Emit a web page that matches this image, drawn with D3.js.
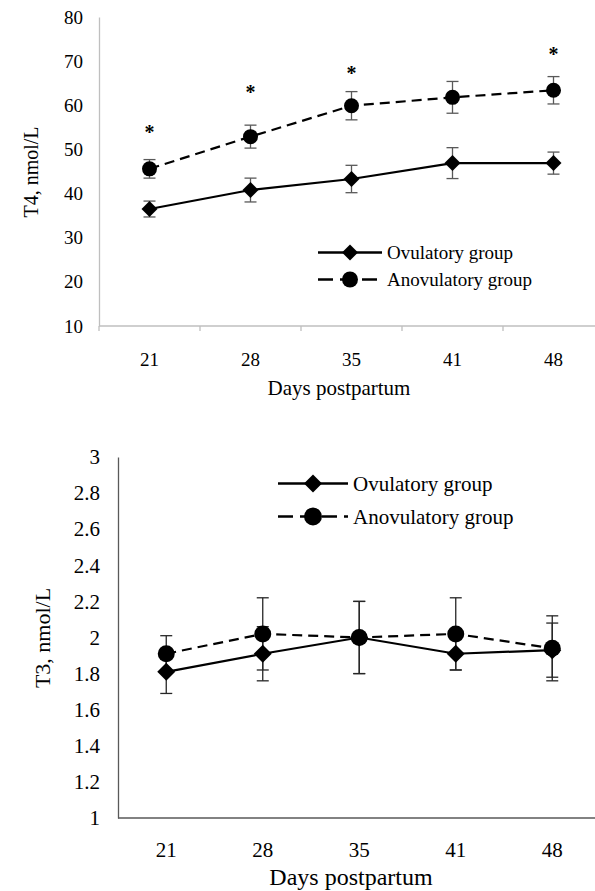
<!DOCTYPE html>
<html><head><meta charset="utf-8">
<script src="https://cdn.jsdelivr.net/npm/d3@7"></script>
<style>body{margin:0;background:#fff}svg{display:block}</style>
</head><body>
<svg id="c" width="595" height="891"></svg>
<script>
const days = ["21","28","35","41","48"];
const seriesNames = ["Ovulatory group","Anovulatory group"];
// T4 (nmol/L)
const t4Ovul = [36.5, 40.8, 43.3, 46.9, 46.9];
const t4OvulErr = [1.8, 2.7, 3.1, 3.5, 2.5];
const t4Anov = [45.6, 52.9, 59.9, 61.8, 63.4];
const t4AnovErr = [2.1, 2.6, 3.2, 3.6, 3.1];
const t4Stars = [54.4, 63.5, 67.8, null, 72.1];
const t4Ticks = [10,20,30,40,50,60,70,80];
// T3 (nmol/L)
const t3Ovul = [1.81, 1.91, 2.00, 1.91, 1.93];
const t3OvulErr = [0.12, 0.15, 0.2, 0.09, 0.15];
const t3Anov = [1.91, 2.02, 2.00, 2.02, 1.94];
const t3AnovErr = [0.1, 0.2, 0.2, 0.2, 0.18];
const t3Ticks = [1,1.2,1.4,1.6,1.8,2,2.2,2.4,2.6,2.8,3];

const FF = "'Liberation Serif','Times New Roman','DejaVu Serif',serif";
const svg = d3.select("#c");

function chart(o){
  const g = svg.append("g");
  const x = d3.scaleBand().domain(days).range([o.x0, o.x1]);
  const y = d3.scaleLinear().domain(o.domain).range([o.y1, o.y0]);
  const ya = d3.axisLeft(y).tickValues(o.ticks).tickSize(0).tickPadding(o.yPad).tickFormat(d=>String(d));
  const yg = g.append("g").attr("transform",`translate(${o.x0},0)`).call(ya);
  yg.attr("font-family",null);
  yg.select(".domain").attr("stroke",o.axisColor).attr("stroke-width",1.3);
  yg.selectAll("text").style("font-size",o.tickFont+"px").style("font-family",FF).attr("fill","#000");
  const xa = d3.axisBottom(x).tickSize(0).tickPadding(o.xPad);
  const xg = g.append("g").attr("transform",`translate(0,${o.y1})`).call(xa);
  xg.attr("font-family",null);
  xg.select(".domain").attr("stroke",o.axisColor).attr("stroke-width",1.3).attr("d",`M${o.x0},0H${o.x1}`);
  xg.selectAll("text").style("font-size",o.tickFont+"px").style("font-family",FF).attr("fill","#000");
  if(o.xTicks){
    const bounds = days.map(d=>x(d)).concat([x(days[4])+x.bandwidth()]);
    g.selectAll(".xt").data(bounds).enter().append("line")
      .attr("x1",d=>d).attr("x2",d=>d).attr("y1",o.y1).attr("y2",o.y1+5)
      .attr("stroke",o.axisColor).attr("stroke-width",1.3);
  }
  g.append("text").attr("x",o.xTitleX).attr("y",o.xTitleY).attr("text-anchor","middle")
    .style("font-size",o.titleFont+"px").style("font-family",FF).text("Days postpartum");
  g.append("text").attr("transform",`translate(${o.yTitleX},${o.yTitleY}) rotate(-90)`)
    .attr("text-anchor","middle").style("font-size",o.yTitleFont+"px").style("font-family",FF).text(o.yTitle);
  const cx = d=>x(d)+x.bandwidth()/2;
  const series = [
    {v:o.ovul,e:o.ovulErr,dash:null,shape:"diamond"},
    {v:o.anov,e:o.anovErr,dash:"10,6",shape:"circle"}
  ];
  series.forEach(s=>{
    days.forEach((d,i)=>{
      const xc=cx(d), t=y(s.v[i]+s.e[i]), b=y(s.v[i]-s.e[i]);
      g.append("line").attr("x1",xc).attr("x2",xc).attr("y1",t).attr("y2",b).attr("stroke",o.errColor).attr("stroke-width",1.3);
      [t,b].forEach(yy=>g.append("line").attr("x1",xc-6).attr("x2",xc+6).attr("y1",yy).attr("y2",yy).attr("stroke",o.errColor).attr("stroke-width",1.3));
    });
  });
  const line = d3.line().x((v,i)=>cx(days[i])).y(v=>y(v));
  series.forEach(s=>{
    g.append("path").attr("d",line(s.v)).attr("fill","none").attr("stroke","#000").attr("stroke-width",2.2)
      .attr("stroke-dasharray",s.dash);
  });
  const diamond = (xc,yc,r)=>`M${xc},${yc-r}L${xc+r},${yc}L${xc},${yc+r}L${xc-r},${yc}Z`;
  series.forEach(s=>{
    days.forEach((d,i)=>{
      if(s.shape==="circle") g.append("circle").attr("cx",cx(d)).attr("cy",y(s.v[i])).attr("r",o.circR).attr("fill","#000");
      else g.append("path").attr("d",diamond(cx(d),y(s.v[i]),o.diaR)).attr("fill","#000");
    });
  });
  if(o.stars){
    days.forEach((d,i)=>{
      if(o.stars[i]==null) return;
      g.append("text").attr("x",cx(d)).attr("y",y(o.stars[i])+9).attr("text-anchor","middle")
        .style("font-size","20px").style("font-family",FF).attr("font-weight","bold").text("*");
    });
  }
  const L=o.legend;
  [[0,null,"diamond"],[1,"15,7","circle"]].forEach(([k,dash,shape])=>{
    const yy=L.y+k*L.dy;
    g.append("line").attr("x1",L.x0).attr("x2",L.x1).attr("y1",yy).attr("y2",yy).attr("stroke","#000").attr("stroke-width",2.4)
      .attr("stroke-dasharray",dash);
    const mx=(L.x0+L.x1)/2;
    if(shape==="circle") g.append("circle").attr("cx",mx).attr("cy",yy).attr("r",L.circR).attr("fill","#000");
    else g.append("path").attr("d",diamond(mx,yy,L.diaR)).attr("fill","#000");
    g.append("text").attr("x",L.tx).attr("y",yy+L.font*0.34).style("font-size",L.font+"px").style("font-family",FF).text(seriesNames[k]);
  });
}

chart({x0:99,x1:604,y0:17,y1:326,domain:[10,80],ticks:t4Ticks,axisColor:"#bfbfbf",errColor:"#595959",
  tickFont:19,titleFont:21,yTitleFont:20,yPad:16,xPad:27,xTicks:true,
  xTitleX:339,xTitleY:395,yTitleX:38,yTitleY:172,yTitle:"T4, nmol/L",
  ovul:t4Ovul,ovulErr:t4OvulErr,anov:t4Anov,anovErr:t4AnovErr,stars:t4Stars,
  circR:7.5,diaR:8,legend:{x0:318,x1:382,tx:387,y:252.5,dy:27,font:19,circR:8,diaR:8}});

chart({x0:118,x1:600.5,y0:457,y1:818,domain:[1,3],ticks:t3Ticks,axisColor:"#595959",errColor:"#262626",
  tickFont:21,titleFont:24,yTitleFont:22,yPad:18,xPad:24,xTicks:false,
  xTitleX:351,xTitleY:885,yTitleX:50,yTitleY:638,yTitle:"T3, nmol/L",
  ovul:t3Ovul,ovulErr:t3OvulErr,anov:t3Anov,anovErr:t3AnovErr,stars:null,
  circR:8.5,diaR:9,legend:{x0:278,x1:348,tx:353,y:483.5,dy:33,font:21,circR:9,diaR:9}});
</script>
</body></html>
